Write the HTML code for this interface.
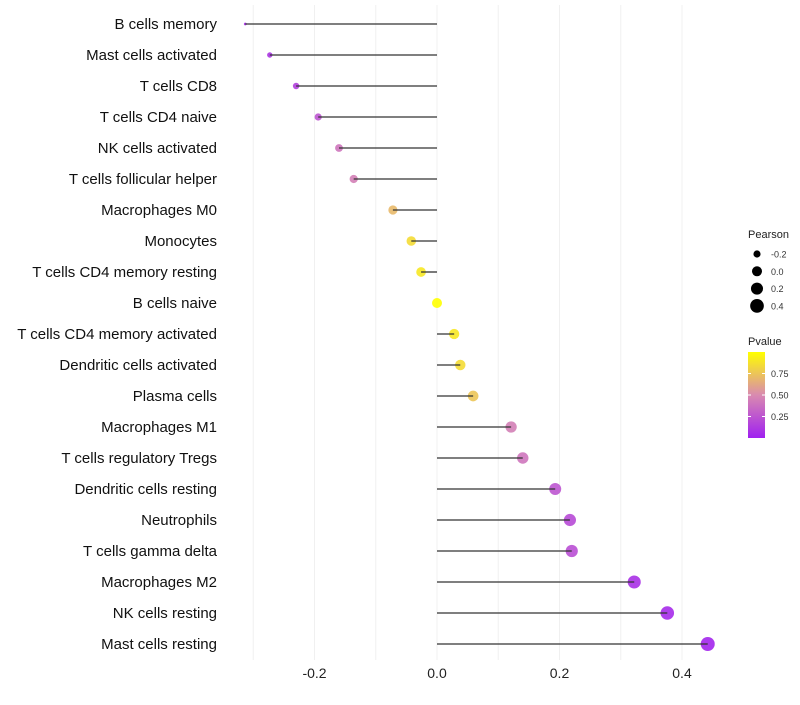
<!DOCTYPE html>
<html><head><meta charset="utf-8"><style>
body{margin:0;background:#fff;font-family:"Liberation Sans",sans-serif}
</style></head><body>
<svg id="chart" width="800" height="700" xmlns="http://www.w3.org/2000/svg" font-family="Liberation Sans, sans-serif">
<defs><linearGradient id="pg" x1="0" y1="1" x2="0" y2="0">
<stop offset="0" stop-color="#A020F0"/><stop offset="0.5" stop-color="#D98AB0"/><stop offset="1" stop-color="#FFFF00"/></linearGradient></defs>
<g id="grid"></g><g id="marks"></g><g id="labels"></g><g id="legend"></g>
</svg>
<script>
const categories=["B cells memory","Mast cells activated","T cells CD8","T cells CD4 naive","NK cells activated","T cells follicular helper","Macrophages M0","Monocytes","T cells CD4 memory resting","B cells naive","T cells CD4 memory activated","Dendritic cells activated","Plasma cells","Macrophages M1","T cells regulatory  Tregs ","Dendritic cells resting","Neutrophils","T cells gamma delta","Macrophages M2","NK cells resting","Mast cells resting"];
const pearson=[-0.313,-0.273,-0.230,-0.194,-0.160,-0.136,-0.072,-0.042,-0.026,0.0,0.028,0.038,0.059,0.121,0.140,0.193,0.217,0.220,0.322,0.376,0.442];
const pvalue=[0.05,0.10,0.15,0.25,0.40,0.45,0.70,0.85,0.90,1.0,0.90,0.85,0.75,0.45,0.40,0.25,0.20,0.22,0.08,0.05,0.03];
const xTicks=[-0.2,0.0,0.2,0.4];
const xTickLabels=["-0.2","0.0","0.2","0.4"];
const gridVals=[-0.3,-0.2,-0.1,0,0.1,0.2,0.3,0.4];
const sizeLegend=[-0.2,0.0,0.2,0.4];
const sizeLegendLabels=["-0.2","0.0","0.2","0.4"];
const colorLegend=[0.25,0.5,0.75];
const colorLegendLabels=["0.25","0.50","0.75"];

const NS="http://www.w3.org/2000/svg";
const X=v=>437+v*612.5;
const Y=i=>24+i*31;
const pMin=Math.min(...pearson), pMax=Math.max(...pearson);
const R=v=>1.4+5.6*Math.sqrt(Math.max(0,(v-pMin)/(pMax-pMin)));
function lerp(a,b,t){return a.map((x,i)=>Math.round(x+(b[i]-x)*t));}
function col(p){const s=[[160,32,240],[217,138,176],[255,255,0]];let c=p<0.5?lerp(s[0],s[1],p/0.5):lerp(s[1],s[2],(p-0.5)/0.5);return `rgb(${c.join(",")})`;}
function mk(tag,attrs,parent,text){const e=document.createElementNS(NS,tag);for(const k in attrs)e.setAttribute(k,attrs[k]);if(text!==undefined)e.textContent=text;document.getElementById(parent).appendChild(e);return e;}

gridVals.forEach(v=>{const e=mk("line",{x1:X(v),x2:X(v),y1:5,y2:660,stroke:"#f0f0f0","stroke-width":1},"grid");

});
xTicks.forEach((v,i)=>{const t=mk("text",{x:X(v),y:678,"text-anchor":"middle","font-size":14,fill:"#222"},"labels",xTickLabels[i]);

});
categories.forEach((c,i)=>{
const t=mk("text",{x:217,y:Y(i)+5,"text-anchor":"end","font-size":15,fill:"#111"},"labels",c);


const p=mk("circle",{cx:X(pearson[i]),cy:Y(i),r:R(pearson[i]),fill:col(pvalue[i]),"fill-opacity":0.9},"marks");


const l=mk("line",{x1:X(0),x2:X(pearson[i]),y1:Y(i),y2:Y(i),stroke:"#333","stroke-width":1.3},"marks");


});
let t=mk("text",{x:748,y:238,"font-size":11,fill:"#222"},"legend","Pearson");


sizeLegend.forEach((v,i)=>{const yy=254+i*17.3;
const c=mk("circle",{cx:757,cy:yy,r:R(v),fill:"#000"},"legend");


const tt=mk("text",{x:771,y:yy+3.5,"font-size":9,fill:"#333"},"legend",sizeLegendLabels[i]);

});
t=mk("text",{x:748,y:345,"font-size":11,fill:"#222"},"legend","Pvalue");


const bar=mk("rect",{x:748,y:352,width:17,height:86,fill:"url(#pg)"},"legend");


colorLegend.forEach((v,i)=>{const yy=438-v*86;
const tk=mk("line",{x1:748,x2:751,y1:yy,y2:yy,stroke:"#fff"},"legend");


const tk2=mk("line",{x1:762,x2:765,y1:yy,y2:yy,stroke:"#fff"},"legend");


const tt=mk("text",{x:771,y:yy+3.5,"font-size":9,fill:"#333"},"legend",colorLegendLabels[i]);

});
</script>
</body></html>
